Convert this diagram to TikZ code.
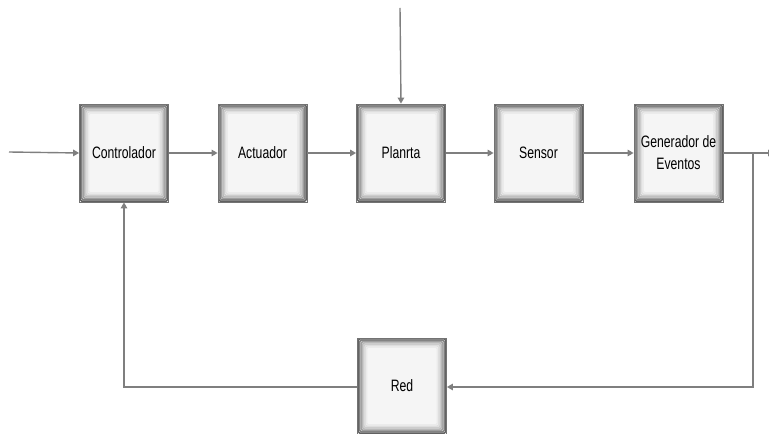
\documentclass[tikz,border=0pt]{standalone}
\usepackage{fontspec}
\setmainfont{Liberation Sans}[FakeStretch=0.74]
\usetikzlibrary{arrows.meta}
\definecolor{linegray}{HTML}{7F7F7F}
\tikzset{
  blk/.style={minimum width=89bp, minimum height=98bp, inner sep=0pt,
    fill=black!4, draw=black!55, line width=0.8bp, align=center,
    font=\fontsize{16.5bp}{22bp}\selectfont,
    path picture={
      \foreach \k/\c in {0.8/62,2.2/50,3.6/38,5/28,6.4/20,7.8/13,9.2/8}{
        \draw[line width=1.5bp, draw=black!\c, rounded corners=1.5bp]
          ([xshift=\k bp, yshift=-\k bp]path picture bounding box.north west) rectangle
          ([xshift=-\k bp, yshift=\k bp]path picture bounding box.south east);
      }
    }},
  conn/.style={draw=linegray, line width=1.4bp},
  arr/.style={conn, -{Triangle[length=6bp, width=6.5bp]}}
}
\begin{document}
\begin{tikzpicture}[x=1bp, y=-1bp]
\useasboundingbox (0,0) rectangle (769,434);
\node[blk] (ctrl) at (124,153) {Controlador};
\node[blk] (act) at (262.5,153) {Actuador};
\node[blk] (pla) at (401,153) {Planrta};
\node[blk] (sen) at (538.5,153) {Sensor};
\node[blk] (gen) at (678.5,153) {Generador de\\Eventos};
\node[blk, minimum height=96bp] (red) at (402,386) {Red};
\coordinate (in) at (9,152);
\coordinate (top) at (400,8);
\coordinate (out) at (774,153);
\coordinate (br) at (753,153);
\coordinate (brd) at (753,387);
\coordinate (fbl) at (124,387);
\draw[arr] (in) -- (ctrl.west);
\draw[arr] (top) -- (pla.north);
\draw[arr] (ctrl) -- (act);
\draw[arr] (act) -- (pla);
\draw[arr] (pla) -- (sen);
\draw[arr] (sen) -- (gen);
\draw[arr] (gen.east) -- (out);
\draw[arr] (br) -- (brd) -- (red.east |- brd);
\draw[arr] (red.west |- fbl) -- (fbl) -- (ctrl.south);
\end{tikzpicture}
\end{document}
